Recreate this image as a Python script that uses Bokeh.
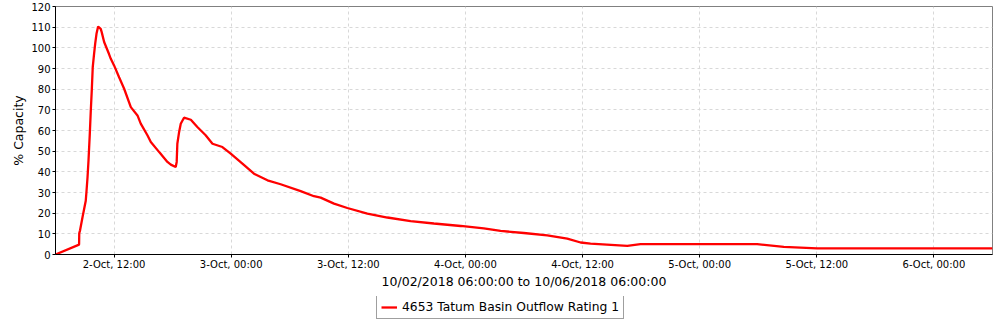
import pandas as pd
from bokeh.plotting import figure
from bokeh.layouts import column
from bokeh.models import (FixedTicker, Range1d, Legend, LegendItem, ColumnDataSource)
from bokeh.embed import file_html
from bokeh.resources import INLINE

series_name = "4653 Tatum Basin Outflow Rating 1"
times = [
    "2018-10-02 06:00", "2018-10-02 08:25", "2018-10-02 08:26", "2018-10-02 08:31",
    "2018-10-02 08:46", "2018-10-02 08:56", "2018-10-02 09:06", "2018-10-02 09:10",
    "2018-10-02 09:17", "2018-10-02 09:23", "2018-10-02 09:31", "2018-10-02 09:37",
    "2018-10-02 09:43", "2018-10-02 09:49", "2018-10-02 09:57", "2018-10-02 10:04",
    "2018-10-02 10:12", "2018-10-02 10:22", "2018-10-02 10:38", "2018-10-02 10:44",
    "2018-10-02 10:59", "2018-10-02 11:29", "2018-10-02 11:40", "2018-10-02 12:00",
    "2018-10-02 12:31", "2018-10-02 13:02", "2018-10-02 13:43", "2018-10-02 14:24",
    "2018-10-02 14:44", "2018-10-02 15:25", "2018-10-02 15:46", "2018-10-02 16:40",
    "2018-10-02 17:28", "2018-10-02 17:49", "2018-10-02 18:19", "2018-10-02 18:25",
    "2018-10-02 18:29", "2018-10-02 18:40", "2018-10-02 18:50", "2018-10-02 19:10",
    "2018-10-02 19:52", "2018-10-02 20:32", "2018-10-02 21:23", "2018-10-02 22:05",
    "2018-10-02 23:06", "2018-10-02 23:57", "2018-10-03 01:09", "2018-10-03 02:20",
    "2018-10-03 03:43", "2018-10-03 05:04", "2018-10-03 07:07", "2018-10-03 08:29",
    "2018-10-03 09:10", "2018-10-03 10:32", "2018-10-03 11:54", "2018-10-03 13:57",
    "2018-10-03 16:00", "2018-10-03 18:23", "2018-10-03 20:46", "2018-10-03 23:31",
    "2018-10-04 01:53", "2018-10-04 03:36", "2018-10-04 05:59", "2018-10-04 08:23",
    "2018-10-04 10:26", "2018-10-04 11:48", "2018-10-04 12:49", "2018-10-04 16:35",
    "2018-10-04 17:56", "2018-10-05 05:53", "2018-10-05 08:37", "2018-10-05 12:02",
    "2018-10-06 06:00",
]
values = [
    0, 4.8, 10.3, 11.7,
    18, 22, 26, 30,
    37.5, 45.6, 58.6, 69.7,
    79.4, 90.7, 97, 102,
    106.8, 110.3, 109.2, 107.6,
    102.8, 97, 94.7, 91.5,
    85.8, 80.2, 71.3, 67.3,
    63.3, 57.7, 54.4, 49.3,
    44.8, 43.5, 42.3, 44.8,
    53.6, 59.3, 63.3, 66.2,
    65.2, 61.7, 57.7, 53.6,
    52, 48.8, 44, 39.1,
    35.9, 34, 30.7, 28.2,
    27.5, 24.6, 22.5, 19.8,
    17.9, 16.2, 15, 13.8,
    12.6, 11.4, 10.4, 9.3,
    7.7, 5.8, 5.3, 4.2,
    5.0, 5.0, 3.7, 3.0,
    3.0,
]
tick_times = ["2018-10-02 12:00", "2018-10-03 00:00", "2018-10-03 12:00", "2018-10-04 00:00",
              "2018-10-04 12:00", "2018-10-05 00:00", "2018-10-05 12:00", "2018-10-06 00:00"]
tick_labels = ["2-Oct, 12:00", "3-Oct, 00:00", "3-Oct, 12:00", "4-Oct, 00:00",
               "4-Oct, 12:00", "5-Oct, 00:00", "5-Oct, 12:00", "6-Oct, 00:00"]
y_ticks = [0, 10, 20, 30, 40, 50, 60, 70, 80, 90, 100, 110, 120]
x_start, x_end = "2018-10-02 06:00", "2018-10-06 06:00"
x_title = "10/02/2018 06:00:00 to 10/06/2018 06:00:00"
y_title = "% Capacity"

LINE_COLOR = "#ff0000"
LINE_WIDTH = 2.3


def ms(s):
    return float(pd.Timestamp(s).value // 10**6)


xs = [ms(t) for t in times]
tick_ms = [ms(t) for t in tick_times]

p = figure(width=1000, height=296, output_backend="svg", toolbar_location=None,
           x_range=Range1d(ms(x_start), ms(x_end)), y_range=Range1d(0, 120),
           min_border_left=55, min_border_right=8, min_border_top=6, min_border_bottom=42)

src = ColumnDataSource(dict(x=xs, y=values))
r = p.line("x", "y", source=src, line_color=LINE_COLOR, line_width=LINE_WIDTH)

p.xaxis.ticker = FixedTicker(ticks=tick_ms)
p.xaxis.major_label_overrides = {t: l for t, l in zip(tick_ms, tick_labels)}
p.yaxis.ticker = FixedTicker(ticks=y_ticks)

for ax in (p.xaxis[0], p.yaxis[0]):
    ax.axis_line_color = "black"
    ax.axis_line_width = 1
    ax.major_tick_line_color = "black"
    ax.major_tick_in = 0
    ax.major_tick_out = 3
    ax.minor_tick_line_color = None
    ax.major_label_text_font = "DejaVu Sans"
    ax.major_label_text_font_size = "10px"
    ax.major_label_text_color = "black"
    ax.axis_label_text_font = "DejaVu Sans"
    ax.axis_label_text_font_size = "12.5px"
    ax.axis_label_text_font_style = "normal"
    ax.axis_label_text_color = "black"

p.xaxis.axis_label = x_title
p.yaxis.axis_label = y_title
p.xaxis.major_label_standoff = 1
p.xaxis.axis_label_standoff = 1
p.yaxis.major_label_standoff = 2
p.yaxis.axis_label_standoff = 2

p.grid.grid_line_color = "#d8d8d8"
p.grid.grid_line_dash = "3 3"
p.grid.grid_line_width = 1
p.outline_line_color = "#808080"
p.outline_line_width = 1
p.background_fill_color = "white"
p.border_fill_color = "white"

# legend strip below the chart (its frame is aligned with the chart frame)
p2 = figure(width=1000, height=24, output_backend="svg", toolbar_location=None,
            x_range=Range1d(0, 1), y_range=Range1d(0, 1),
            x_axis_location=None, y_axis_location=None, min_border=0)
p2.grid.visible = False
p2.outline_line_color = None
r2 = p2.line("x", "y", source=src, line_color=LINE_COLOR, line_width=LINE_WIDTH)
legend = Legend(items=[LegendItem(label=series_name, renderers=[r2])],
                orientation="horizontal", location=(321, 1),
                border_line_color="#404040", border_line_width=1,
                label_text_font="DejaVu Sans", label_text_font_size="12.3px",
                label_text_color="black", glyph_width=16, glyph_height=12,
                label_standoff=5, padding=4, margin=0, spacing=0,
                background_fill_color="white", background_fill_alpha=1)
p2.add_layout(legend, "center")

layout = column(p, p2, spacing=0)
open("out.html", "w").write(file_html(layout, INLINE))
